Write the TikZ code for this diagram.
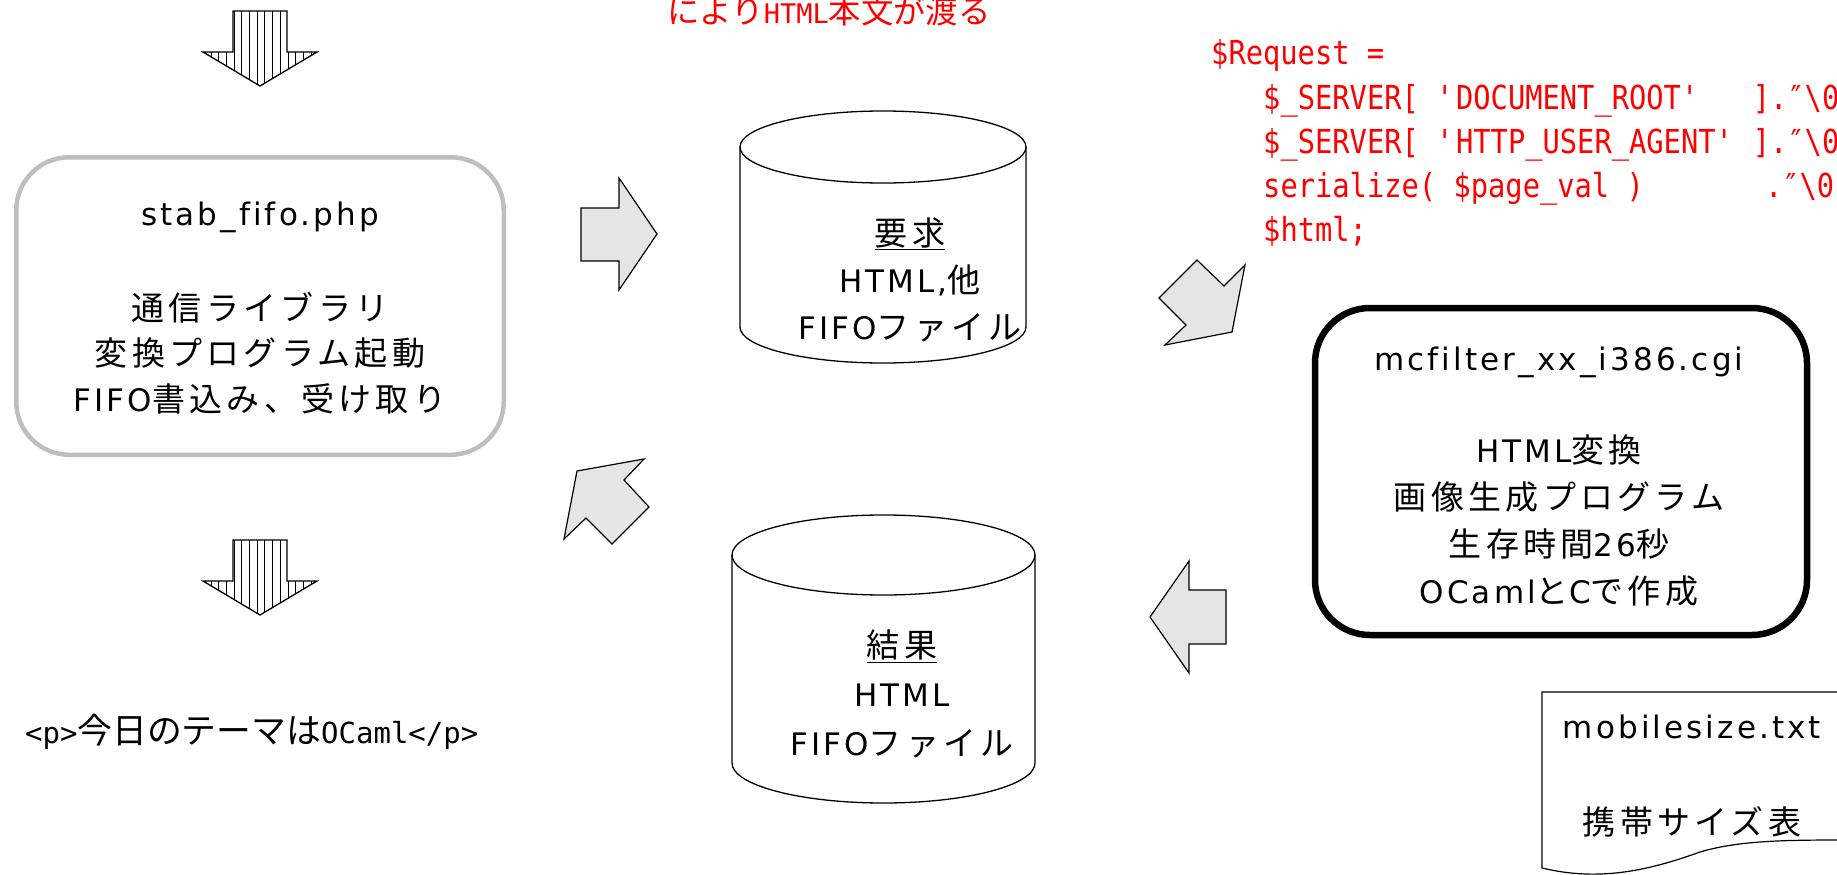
\documentclass[tikz,border=0pt]{standalone}
\usepackage{fontspec}
\setmainfont{DejaVu Sans}[LetterSpace=10,Ligatures=NoCommon]
\newfontfamily\jp{Noto Sans CJK JP}[Scale=1.065,LetterSpace=13]
\newfontfamily\jpm{Noto Sans CJK JP}[Scale=1.2]
\newfontfamily\mono{DejaVu Sans Mono}
\newfontfamily\monon{DejaVu Sans Mono}[FakeStretch=0.871]
\newcommand\J[1]{{\jp #1}}
\newcommand\JM[1]{{\jpm #1}}
\definecolor{arrowgray}{RGB}{229,229,229}
\definecolor{boxgray}{RGB}{190,190,190}
\definecolor{codered}{RGB}{255,0,0}
\begin{document}
\begin{tikzpicture}[x=1pt,y=-1pt,
  blockarrow/.style={draw=black,line width=1.2pt,fill=arrowgray,line join=miter},
  hatchline/.style={line width=0.9pt},
  outline/.style={draw=black,line width=1.3pt},
  lbl/.style={font=\fontsize{31}{45.5}\selectfont,align=center,anchor=base,inner sep=0pt},
  monolbl/.style={font=\mono\fontsize{29}{40}\selectfont,anchor=base west,inner sep=0pt},
  codelbl/.style={font=\monon\fontsize{33}{44}\selectfont,text=codered,anchor=base west,inner sep=0pt}]
\useasboundingbox (0,0) rectangle (1837,875);

% hatched arrows
\foreach \yo in {0,529}{
  \begin{scope}
    \clip (233,11+\yo) -- (287,11+\yo) -- (287,52+\yo) -- (317,52+\yo) -- (260,86+\yo) -- (203,52+\yo) -- (233,52+\yo) -- cycle;
    \foreach \k in {1,...,14} \draw[hatchline] ({203.3+7.7*\k},0+\yo) -- ({203.3+7.7*\k},100+\yo);
  \end{scope}
  \draw[outline,line join=miter] (233,11+\yo) -- (287,11+\yo) -- (287,52+\yo) -- (317,52+\yo) -- (260,86+\yo) -- (203,52+\yo) -- (233,52+\yo) -- cycle;
}

% left box
\node[draw=boxgray,line width=4.5pt,rounded corners=53pt,minimum width=487.5pt,minimum height=297.5pt,inner sep=0pt] (stab) at (260,306) {};
\node[lbl] (stabtxt) at (260,411) {stab\_fifo.php\\[49.5pt]\J{通信ライブラリ}\\\J{変換プログラム起動}\\FIFO\J{書込み、受け取り}};

% right box
\node[draw=black,line width=6.5pt,rounded corners=55pt,minimum width=492pt,minimum height=327pt,inner sep=0pt] (mcf) at (1561,471.5) {};
\node[lbl,font=\fontsize{31}{47}\selectfont] (mcftxt) at (1559,603.5) {mcfilter\_xx\_i386.cgi\\[45.3pt]HTML\J{変換}\\\J{画像生成プログラム}\\\J{生存時間}26\J{秒}\\OCaml\J{と}C\J{で作成}};

% top cylinder
\draw[outline] (740,147) -- (740,327) arc[start angle=180,end angle=360,x radius=143pt,y radius=36pt] -- (1026,147);
\draw[outline] (883,147) ellipse[x radius=143pt,y radius=36pt];
\node[lbl,font=\fontsize{31}{47}\selectfont] (reqtxt) at (910,339) {\underline{\J{要求}}\\HTML,\J{他}\\FIFO\J{ファイル}};

% bottom cylinder
\draw[outline] (732,555) -- (732,763) arc[start angle=180,end angle=360,x radius=151.5pt,y radius=40pt] -- (1035,555);
\draw[outline] (883.5,555) ellipse[x radius=151.5pt,y radius=40pt];
\node[lbl,font=\fontsize{31}{48.6}\selectfont] (restxt) at (902,755) {\underline{\J{結果}}\\HTML\\FIFO\J{ファイル}};

% document
\draw[outline,line width=1.2pt] (1850,692) -- (1542,692) -- (1542,868) .. controls (1600,882) and (1650,870) .. (1700,852) .. controls (1740,840) and (1790,840) .. (1850,840);
\node[lbl] (mobtxt) at (1692,834.5) {mobilesize.txt\\[51pt]\J{携帯サイズ表}};

% block arrows
\draw[blockarrow] (581,208) -- (619,208) -- (619,178) -- (657,234) -- (619,290) -- (619,261) -- (581,261) -- cycle;
\draw[blockarrow] (644,459) -- (577,471) -- (564,539) -- (586,518) -- (612,544) -- (649,507) -- (624,480) -- cycle;
\draw[blockarrow] (1197,260) -- (1224,286) -- (1245,265) -- (1232,332) -- (1165,345) -- (1186,325) -- (1159,298) -- cycle;
\draw[blockarrow] (1150,617) -- (1189,561) -- (1189,590) -- (1226,590) -- (1226,644) -- (1189,644) -- (1189,673) -- cycle;

% texts
\node[monolbl] (ptxt) at (25,743) {<p>\JM{今日のテーマは}OCaml</p>};
\node[monolbl,font=\mono\fontsize{27}{30}\selectfont,text=codered] (toptxt) at (667,24) {\JM{により}HTML\JM{本文が渡る}};
\node[codelbl] (c1) at (1211,65) {\$Request~=};
\node[codelbl] (c2) at (1263,109) {\$\_SERVER[~\textquotesingle DOCUMENT\_ROOT\textquotesingle~~~].″\textbackslash 0};
\node[codelbl] (c3) at (1263,153) {\$\_SERVER[~\textquotesingle HTTP\_USER\_AGENT\textquotesingle~].″\textbackslash 0};
\node[codelbl] (c4) at (1263,197) {serialize(~\$page\_val~)~~~~~~~.″\textbackslash 0};
\node[codelbl] (c5) at (1263,241) {\$html;};
\end{tikzpicture}
\end{document}
